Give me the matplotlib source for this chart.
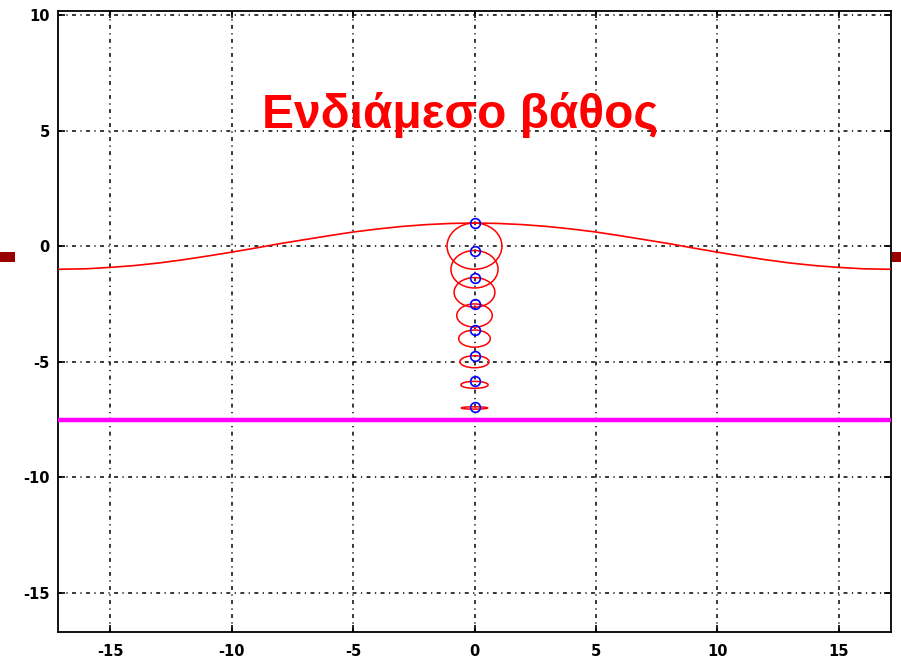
import matplotlib
matplotlib.use("Agg")
import matplotlib.pyplot as plt
from matplotlib.patches import Ellipse, Rectangle

# ---- data ----
surface_x = [-17.15, -17, -16, -15, -14, -13, -12, -11, -10, -9, -8, -7, -6, -5, -4, -3, -2, -1,
             0, 1, 2, 3, 4, 5, 6, 7, 8, 9, 10, 11, 12, 13, 14, 15, 16, 17, 17.15]
surface_y = [-1.00, -1.00, -0.98, -0.92, -0.84, -0.73, -0.59, -0.43, -0.26, -0.08, 0.11, 0.28,
             0.45, 0.61, 0.74, 0.85, 0.93, 0.98,
             1.00, 0.98, 0.93, 0.85, 0.74, 0.61, 0.45, 0.28, 0.11, -0.08, -0.26, -0.43, -0.59,
             -0.73, -0.84, -0.92, -0.98, -1.00, -1.00]

orbit_center_z = [0, -1, -2, -3, -4, -5, -6, -7]
orbit_semi_h = [1.13, 0.97, 0.84, 0.73, 0.65, 0.60, 0.56, 0.54]
orbit_semi_v = [1.00, 0.81, 0.64, 0.50, 0.37, 0.26, 0.15, 0.05]
particle_x = [0, 0, 0, 0, 0, 0, 0, 0]
particle_y = [1.00, -0.19, -1.36, -2.50, -3.63, -4.74, -5.85, -6.95]

bottom_depth = -7.5
x_limits = (-17.15, 17.15)
y_limits = (-16.69, 10.17)
x_ticks = [-15, -10, -5, 0, 5, 10, 15]
y_ticks = [-15, -10, -5, 0, 5, 10]
title_text = "Ενδιάμεσο βάθος"

# ---- figure ----
plt.rcParams['lines.scale_dashes'] = False
fig = plt.figure(figsize=(9.01, 6.63), dpi=100)
ax = fig.add_axes([58 / 901, 31 / 663, (891 - 58) / 901, (632 - 11) / 663])

ax.set_xlim(*x_limits)
ax.set_ylim(*y_limits)
ax.set_xticks(x_ticks)
ax.set_yticks(y_ticks)
ax.set_xticklabels([str(t) for t in x_ticks])
ax.set_yticklabels([str(t) for t in y_ticks])

ax.grid(True, color='black', linewidth=1.1, linestyle=(0, (2.8, 3.2, 0.9, 3.2)))
ax.set_axisbelow(True)
ax.tick_params(direction='in', length=5, width=1.2, top=True, right=True,
               labelsize=10.5, colors='black')
ax.tick_params(axis='x', pad=9)
ax.tick_params(axis='y', pad=6)
for lbl in ax.get_xticklabels() + ax.get_yticklabels():
    lbl.set_fontweight('bold')
for sp in ax.spines.values():
    sp.set_linewidth(1.3)

# surface
ax.plot(surface_x, surface_y, color='red', linewidth=1.2, zorder=3)

# orbits
for z, a, b in zip(orbit_center_z, orbit_semi_h, orbit_semi_v):
    ax.add_patch(Ellipse((0, z), 2 * a, 2 * b, fill=False, edgecolor='red',
                         linewidth=1.1, zorder=3))

# particles
ax.plot(particle_x, particle_y, linestyle='none', marker='o', markersize=7,
        markerfacecolor='none', markeredgecolor='blue', markeredgewidth=1.2, zorder=4)

# bottom
ax.axhline(bottom_depth, color='#ff00ff', linewidth=3.2, zorder=3)

# title
fig.text(460 / 901, 1 - 128 / 663, title_text, color='red', fontsize=34.5,
         fontweight='bold', family=['Liberation Sans', 'DejaVu Sans'],
         ha='center', va='baseline')

# slide decorations (dark red squares at the edges)
fig.patches.append(Rectangle((0, 1 - 262 / 663), 15 / 901, 10 / 663,
                             transform=fig.transFigure, facecolor='#990000',
                             edgecolor='none', figure=fig))
fig.patches.append(Rectangle((892 / 901, 1 - 262 / 663), 9 / 901, 10 / 663,
                             transform=fig.transFigure, facecolor='#990000',
                             edgecolor='none', figure=fig))

fig.savefig('out.png', dpi=100)
